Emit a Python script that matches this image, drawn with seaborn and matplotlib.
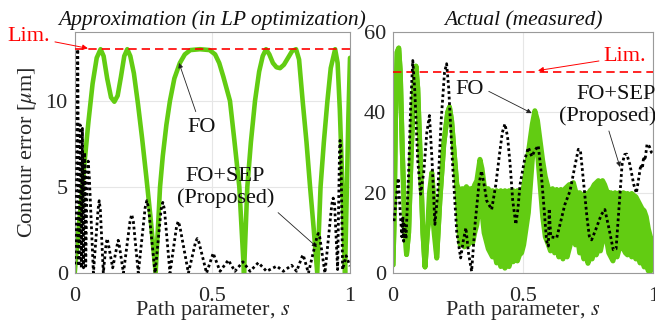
import matplotlib
matplotlib.use("Agg")
import matplotlib.pyplot as plt
import seaborn as sns

# ---------------- data ----------------
# Left panel: approximation (LP optimization)
s_fo_l = [0.000, 0.010, 0.020, 0.035, 0.050, 0.065, 0.080, 0.094, 0.105, 0.118, 0.132, 0.144,
          0.156, 0.168, 0.180, 0.191, 0.202, 0.215, 0.230, 0.245, 0.260, 0.275, 0.294, 0.302,
          0.310, 0.320, 0.333, 0.346, 0.362, 0.382, 0.400, 0.420, 0.455, 0.490, 0.510, 0.525,
          0.540, 0.552, 0.564, 0.580, 0.598, 0.615, 0.621, 0.627, 0.640, 0.655, 0.670, 0.683,
          0.695, 0.707, 0.720, 0.733, 0.746, 0.760, 0.775, 0.790, 0.804, 0.815, 0.828, 0.842,
          0.855, 0.868, 0.881, 0.887, 0.893, 0.905, 0.918, 0.930, 0.946, 0.955, 0.963, 0.970,
          0.976, 0.982, 0.988, 0.994, 1.000]
fo_l = [0.0, 1.8, 3.6, 6.3, 8.8, 11.0, 12.5, 13.0, 12.6, 11.3, 10.2, 9.95,
        10.3, 11.4, 12.6, 13.0, 12.6, 11.6, 9.8, 7.8, 5.6, 3.3, 0.0, 2.5,
        5.0, 6.8, 8.6, 10.0, 11.3, 12.2, 12.7, 12.95, 13.0, 12.95, 12.7, 12.2,
        11.4, 10.7, 10.0, 7.7, 5.0, 0.0, 2.5, 5.0, 7.6, 10.0, 11.7, 12.6,
        13.0, 12.7, 12.2, 11.95, 11.9, 12.1, 12.5, 12.9, 13.0, 12.4, 10.0, 7.6,
        5.0, 2.6, 0.0, 2.5, 5.0, 7.6, 10.0, 11.9, 13.0, 12.2, 9.5, 6.2,
        3.0, 0.0, 4.5, 9.0, 12.5]

s_sep_l = [0.000, 0.005, 0.011, 0.015, 0.020, 0.024, 0.028, 0.032, 0.036, 0.040, 0.045, 0.049,
           0.053, 0.068, 0.085, 0.089, 0.093, 0.104, 0.114, 0.118, 0.122, 0.138, 0.154, 0.158,
           0.162, 0.177, 0.201, 0.207, 0.213, 0.231, 0.256, 0.262, 0.268, 0.292, 0.314, 0.320,
           0.326, 0.346, 0.370, 0.376, 0.382, 0.413, 0.439, 0.445, 0.451, 0.479, 0.503, 0.528,
           0.558, 0.582, 0.611, 0.637, 0.667, 0.697, 0.734, 0.758, 0.788, 0.806, 0.826, 0.830,
           0.849, 0.880, 0.885, 0.890, 0.909, 0.934, 0.939, 0.944, 0.955, 0.962, 0.964, 0.967,
           0.973, 0.986, 1.000]
sep_l = [0.5, 2.0, 13.0, 0.4, 8.6, 0.3, 8.4, 0.3, 7.0, 0.4, 5.6, 6.5,
         5.6, 0.0, 3.7, 4.2, 3.7, 0.0, 1.7, 2.0, 1.7, 0.3, 1.6, 1.9,
         1.6, 0.0, 3.0, 3.4, 3.0, 0.0, 3.8, 4.2, 3.8, 0.0, 3.7, 4.1,
         3.7, 0.0, 2.7, 3.0, 2.7, 0.0, 1.8, 2.0, 1.8, 0.0, 1.15, 0.1,
         0.75, 0.1, 0.65, 0.1, 0.6, 0.1, 0.4, 0.1, 0.45, 0.1, 0.95, 1.05,
         0.0, 2.1, 2.3, 2.1, 0.0, 4.0, 4.35, 4.0, 0.2, 7.2, 7.7, 7.2,
         0.2, 1.0, 0.4]
lim_l = 13.0

# Right panel: actual (measured) -- FO given as upper / lower edge of its fast oscillation
s_fo_r = [0.000, 0.004, 0.010, 0.016, 0.022, 0.028, 0.036, 0.044, 0.052, 0.060, 0.070, 0.080,
          0.088, 0.095, 0.105, 0.115, 0.123, 0.132, 0.140, 0.149, 0.158, 0.168, 0.180, 0.195,
          0.210, 0.217, 0.225, 0.235, 0.245,
          0.252, 0.258, 0.266, 0.274, 0.282, 0.290, 0.298, 0.306, 0.314, 0.322, 0.334, 0.342,
          0.350, 0.358, 0.366, 0.374, 0.382, 0.390, 0.398, 0.406, 0.414, 0.422, 0.430, 0.438,
          0.446, 0.454, 0.462, 0.470, 0.478, 0.486, 0.494, 0.502,
          0.520, 0.535, 0.545, 0.555, 0.565, 0.575, 0.585, 0.597,
          0.605, 0.613, 0.621, 0.629, 0.637, 0.645, 0.653, 0.661, 0.669, 0.677, 0.685, 0.693,
          0.701, 0.709, 0.717, 0.725, 0.733, 0.741, 0.749, 0.757, 0.765, 0.773, 0.781, 0.789,
          0.797, 0.805, 0.813, 0.821, 0.829, 0.837, 0.845, 0.853, 0.861, 0.869, 0.877, 0.885,
          0.893, 0.901, 0.909, 0.917, 0.925, 0.933, 0.941, 0.949, 0.957, 0.965, 0.973, 0.981,
          0.989, 0.998]
fo_r_hi = [2, 12, 40, 55, 56, 50, 30, 14, 4.6, 10, 30, 46,
           51.5, 46, 28, 10, 1.5, 10, 20, 25, 18, 4, 18, 32,
           40, 41.3, 38, 30, 22,
           21, 20, 21, 20.5, 21.5, 20.5, 21, 20.5, 22, 23, 28.3, 26,
           22, 20, 21, 19.5, 20.5, 19.5, 20.5, 19.5, 20.5, 19.5, 20.5, 19.5,
           20.5, 19.8, 20.5, 19.8, 20.5, 19.8, 20.3, 21.5,
           30, 37, 40.4, 38, 33, 28, 24, 21,
           20, 21, 20, 20.8, 20, 20.8, 20, 21, 21.5, 22, 22, 22.5,
           20.5, 19.5, 20, 19.5, 19, 19.8, 19.5, 20.5, 21, 22, 22.5, 23,
           22.5, 23, 22, 20.5, 19.8, 20, 19.5, 20, 19.5, 20, 19.5, 20,
           19.5, 19.8, 19.3, 19.8, 19.3, 19, 18, 17, 16, 15.5, 14, 11,
           9, 8]
fo_r_lo = [2, 12, 40, 55, 56, 50, 30, 14, 4.6, 10, 30, 46,
           51.5, 46, 28, 10, 1.5, 10, 14, 17, 10, 3.7, 18, 32,
           40, 41.3, 38, 30, 22,
           12, 7, 9, 6.5, 9, 7, 9.5, 7.5, 10, 12, 18, 15,
           10, 8, 6, 5, 4, 5, 2.5, 3.5, 1.6, 2.8, 1.2, 2.5,
           1.6, 3.5, 2.8, 4, 3, 4.5, 5, 7,
           15, 28, 34, 30, 22, 14, 9, 7,
           5.5, 8, 5, 7, 4, 6, 3.5, 5.5, 4, 6, 8, 10,
           7, 9, 5, 6, 3.5, 5, 2.4, 4, 3.5, 5.5, 4.5, 6,
           5.5, 8, 12, 8, 5, 4, 3, 5, 4, 6, 9, 6,
           5, 4.5, 6, 4, 4.5, 3.5, 4, 2.5, 3, 1.5, 2, 0.5,
           0.4, 2]

s_sep_r = [0.004, 0.012, 0.020, 0.028, 0.034, 0.038, 0.041, 0.045, 0.050, 0.060, 0.068, 0.076,
           0.084, 0.095, 0.106, 0.118, 0.130, 0.140, 0.150, 0.161, 0.172, 0.185, 0.198, 0.206,
           0.214, 0.228, 0.245, 0.260, 0.270, 0.280, 0.290, 0.302, 0.315, 0.330, 0.340, 0.350,
           0.360, 0.379, 0.395, 0.410, 0.420, 0.430, 0.440, 0.450, 0.460, 0.472, 0.480, 0.488,
           0.505, 0.520, 0.533, 0.545, 0.558, 0.568, 0.578, 0.590, 0.597, 0.600, 0.606, 0.629,
           0.645, 0.660, 0.680, 0.700, 0.712, 0.720, 0.730, 0.745, 0.754, 0.763, 0.780, 0.800,
           0.814, 0.830, 0.846, 0.857, 0.868, 0.880, 0.890, 0.898, 0.910, 0.925, 0.935, 0.945,
           0.952, 0.958, 0.963, 0.968, 0.976, 0.985, 0.993, 1.000]
sep_r = [12.9, 18, 23.6, 15, 9, 14, 7.9, 12, 8.5, 25, 42, 52.9,
         45, 28, 19.6, 25, 35, 39.2, 28, 12.1, 20, 38, 50, 52.1,
         46, 28, 10, 3.75, 8, 11.25, 5, 0.4, 12, 22, 25.4, 22,
         18, 15.8, 22, 30, 35, 37.1, 34, 27, 18, 12.1, 16, 22,
         28, 31.25, 29, 30.5, 31.7, 26, 18, 8, 6.7, 16, 9, 8.75,
         13, 17, 20.4, 27, 30.8, 30.5, 24, 14, 9.2, 8.25, 11, 14.5,
         15.8, 11, 5.8, 6, 16, 27, 29.5, 29.6, 27, 22, 19.9, 24,
         27, 26, 29, 28, 32.1, 31.5, 30, 29.6]
lim_r = 50.0

titles = ["Approximation (in LP optimization)", "Actual (measured)"]
xticks = [0, 0.5, 1]
xticklabels = ["0", "0.5", "1"]
yticks_l = [0, 5, 10]
yticks_r = [0, 20, 40, 60]

# ---------------- style ----------------
sns.set_theme(style="white")
plt.rcParams["font.family"] = ["Liberation Serif", "DejaVu Serif"]
plt.rcParams["mathtext.fontset"] = "stix"

GREEN = "#62cc12"
RED = "#ff0000"
FS = 16

W, H = 655, 322
fig = plt.figure(figsize=(W / 100, H / 100), dpi=100)
ax1 = fig.add_axes([74.7 / W, 49 / H, 275.3 / W, 241 / H])
ax2 = fig.add_axes([393 / W, 49 / H, 260.3 / W, 241 / H])


def style(ax, yticks, ylim, title):
    ax.set_xlim(0, 1)
    ax.set_ylim(*ylim)
    ax.set_xticks(xticks)
    ax.set_xticklabels(xticklabels)
    ax.set_yticks(yticks)
    ax.set_yticklabels([str(v) for v in yticks])
    ax.grid(True, color="#e6e6e6", lw=0.8)
    ax.set_axisbelow(True)
    for sp in ax.spines.values():
        sp.set_color("#9a9a9a")
        sp.set_linewidth(0.8)
        sp.set_visible(True)
    ax.tick_params(axis="both", direction="in", length=3, width=0.6, color="#9a9a9a",
                   labelsize=FS, labelcolor="#262626")
    ax.tick_params(axis="x", pad=10)
    ax.tick_params(axis="y", pad=5)
    ax.set_title(title, fontsize=15.5, style="italic", pad=5, color="#111111")
    ax.set_xlabel("Path parameter, $s$", fontsize=FS, color="#262626")
    ax.xaxis.set_label_coords(0.5, -0.108)


style(ax1, yticks_l, (0, 14), titles[0])
style(ax2, yticks_r, (0, 60), titles[1])
ax1.set_ylabel(r"Contour error [$\mu$m]", fontsize=FS, color="#262626")
ax1.yaxis.set_label_coords(-0.172, 0.5)
ax1.yaxis.label.set_va("center")

# ---------------- left panel ----------------
sns.lineplot(x=s_fo_l, y=fo_l, ax=ax1, color=GREEN, linewidth=3.3, estimator=None, sort=False,
             solid_capstyle="round", solid_joinstyle="round", zorder=2)
ax1.axhline(lim_l, color=RED, lw=1.2, linestyle=(0, (5, 3)), zorder=3)
sns.lineplot(x=s_sep_l, y=sep_l, ax=ax1, color="black", linewidth=2.0, estimator=None, sort=False,
             linestyle=(0, (1, 1)), zorder=4)

ax1.annotate("Lim.", xy=(0.048, 13.05), xytext=(-0.166, 13.72), textcoords="data",
             fontsize=FS, color=RED, ha="center", va="center", annotation_clip=False,
             arrowprops=dict(arrowstyle="-|>", color=RED, lw=0.7, mutation_scale=8,
                             shrinkA=1, shrinkB=0))
ax1.annotate("FO", xy=(0.379, 12.2), xytext=(0.459, 8.48), fontsize=FS, color="#111111",
             ha="center", va="center",
             arrowprops=dict(arrowstyle="-|>", color="#222222", lw=0.6, mutation_scale=7,
                             shrinkA=2, shrinkB=0))
ax1.annotate("FO+SEP\n(Proposed)", xy=(0.880, 1.5), xytext=(0.547, 4.94), fontsize=FS,
             color="#111111", ha="center", va="center", multialignment="center",
             linespacing=1.15,
             arrowprops=dict(arrowstyle="-|>", color="#222222", lw=0.6, mutation_scale=7,
                             shrinkA=1, shrinkB=0, relpos=(0.97, 0.05)))

# ---------------- right panel ----------------
ax2.fill_between(s_fo_r, fo_r_lo, fo_r_hi, color=GREEN, lw=0, zorder=2)
sns.lineplot(x=s_fo_r, y=fo_r_hi, ax=ax2, color=GREEN, linewidth=3.6, estimator=None, sort=False,
             solid_joinstyle="round", zorder=2)
sns.lineplot(x=s_fo_r, y=fo_r_lo, ax=ax2, color=GREEN, linewidth=3.6, estimator=None, sort=False,
             solid_joinstyle="round", zorder=2)
ax2.axhline(lim_r, color=RED, lw=1.2, linestyle=(0, (5, 3)), zorder=3)
sns.lineplot(x=s_sep_r, y=sep_r, ax=ax2, color="black", linewidth=2.0, estimator=None, sort=False,
             linestyle=(0, (1, 1)), zorder=4)

ax2.annotate("Lim.", xy=(0.557, 50.4), xytext=(0.891, 53.8), fontsize=FS, color=RED,
             ha="center", va="center", annotation_clip=False,
             arrowprops=dict(arrowstyle="-|>", color=RED, lw=0.7, mutation_scale=8,
                             shrinkA=1, shrinkB=0))
ax2.annotate("FO", xy=(0.533, 39.8), xytext=(0.296, 45.8), fontsize=FS, color="#111111",
             ha="center", va="center",
             arrowprops=dict(arrowstyle="-|>", color="#222222", lw=0.6, mutation_scale=7,
                             shrinkA=1, shrinkB=0, relpos=(1.0, 0.5)))
ax2.annotate("FO+SEP\n(Proposed)", xy=(0.872, 26.4), xytext=(1.011, 41.6), fontsize=FS,
             color="#111111", ha="right", va="center", multialignment="right",
             linespacing=1.15, annotation_clip=False,
             arrowprops=dict(arrowstyle="-|>", color="#222222", lw=0.6, mutation_scale=7,
                             shrinkA=1, shrinkB=0, relpos=(0.5, 0.0)))

for ax in (ax1, ax2):
    leg = ax.get_legend()
    if leg is not None:
        leg.remove()

fig.savefig("out.png", dpi=100)
